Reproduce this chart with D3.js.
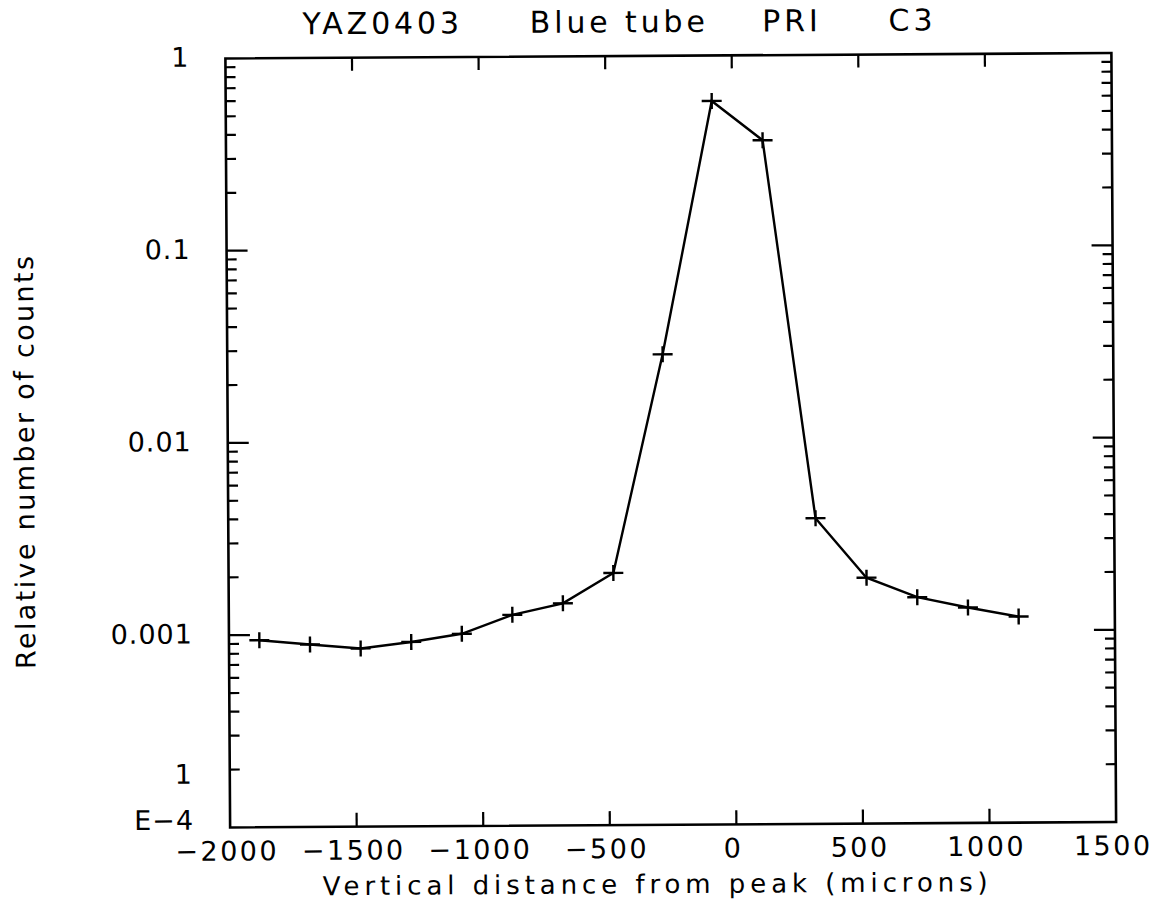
<!DOCTYPE html>
<html>
<head>
<meta charset="utf-8">
<script src="https://cdn.jsdelivr.net/npm/d3@7"></script>
<style>
  body { margin: 0; background: #fff; }
  text { font-family: "DejaVu Sans", sans-serif; fill: #000; }
</style>
</head>
<body>
<svg width="1156" height="905"></svg>
<script>
// data
const distance = [-1880, -1680, -1480, -1280, -1080, -880, -680, -480, -280, -80, 120, 320, 520, 720, 920, 1120];
const counts = [0.00094, 0.00089, 0.000845, 0.00091, 0.001, 0.00125, 0.00143, 0.00205,
  0.028, 0.58, 0.361, 0.00389, 0.0019, 0.0015, 0.00132, 0.00118];
const xTicks = [-2000, -1500, -1000, -500, 0, 500, 1000, 1500];
const yTicks = [1, 0.1, 0.01, 0.001];
const yTickLabels = ['1', '0.1', '0.01', '0.001'];
const title = 'YAZ0403     Blue tube    PRI     C3';

const svg = d3.select('svg');
const pLeft = 227.75, pRight = 1113.75, pTop = 55.75, pBottom = 824.75;
const cx = (pLeft + pRight) / 2, cy = (pTop + pBottom) / 2;

// the scan is slightly skewed
const g = svg.append('g')
  .attr('transform', `rotate(-0.35, ${cx}, ${cy})`);

const x = d3.scaleLinear().domain([-2000, 1500]).range([pLeft, pRight]);
const y = d3.scaleLog().domain([1e-4, 1]).range([pBottom, pTop]);

// minor log ticks 2..9 in each decade
const minor = [];
[1e-4, 1e-3, 1e-2, 1e-1].forEach(dec => {
  [2, 3, 4, 5, 6, 7, 8, 9].forEach(m => minor.push(dec * m));
});

const ticks = g.append('g')
  .attr('stroke', '#000')
  .attr('stroke-width', 2.2);

// left and right axis ticks
ticks.selectAll('.ml').data(minor).enter().append('line')
  .attr('x1', pLeft).attr('x2', pLeft + 10)
  .attr('y1', d => y(d)).attr('y2', d => y(d));
ticks.selectAll('.mr').data(minor).enter().append('line')
  .attr('x1', pRight).attr('x2', pRight - 10)
  .attr('y1', d => y(d)).attr('y2', d => y(d));
ticks.selectAll('.Ml').data(yTicks.slice(1)).enter().append('line')
  .attr('x1', pLeft).attr('x2', pLeft + 21)
  .attr('y1', d => y(d)).attr('y2', d => y(d));
ticks.selectAll('.Mr').data(yTicks.slice(1)).enter().append('line')
  .attr('x1', pRight).attr('x2', pRight - 21)
  .attr('y1', d => y(d)).attr('y2', d => y(d));

// top and bottom axis ticks
const inner = xTicks.slice(1, -1);
ticks.selectAll('.xb').data(inner).enter().append('line')
  .attr('x1', d => x(d)).attr('x2', d => x(d))
  .attr('y1', pBottom).attr('y2', pBottom - 14);
ticks.selectAll('.xt').data(inner).enter().append('line')
  .attr('x1', d => x(d)).attr('x2', d => x(d))
  .attr('y1', pTop).attr('y2', pTop + 13);

// frame
g.append('rect')
  .attr('x', pLeft).attr('y', pTop)
  .attr('width', pRight - pLeft).attr('height', pBottom - pTop)
  .attr('fill', 'none')
  .attr('stroke', '#000')
  .attr('stroke-width', 2.6);

// tick labels
g.append('g').selectAll('text')
  .data(xTicks)
  .enter()
  .append('text')
  .attr('x', d => x(d) - 3)
  .attr('y', pBottom + 33)
  .attr('text-anchor', 'middle')
  .attr('font-size', 27)
  .attr('letter-spacing', 2.5)
  .text(d => d3.format('d')(d).replace('-', '\u2212'));

g.append('g').selectAll('text')
  .data(yTicks)
  .enter()
  .append('text')
  .attr('x', pLeft - 36)
  .attr('y', d => y(d) + 8)
  .attr('text-anchor', 'end')
  .attr('font-size', 27)
  .attr('letter-spacing', 1)
  .text((d, i) => yTickLabels[i]);

// 1E-4 written on two lines
g.append('text')
  .attr('x', pLeft - 38)
  .attr('y', y(1e-4) - 44)
  .attr('text-anchor', 'end')
  .attr('font-size', 27)
  .text('1');
g.append('text')
  .attr('x', pLeft - 36)
  .attr('y', y(1e-4) + 2)
  .attr('text-anchor', 'end')
  .attr('font-size', 27)
  .attr('letter-spacing', 1)
  .text('E\u22124');

// axis titles
g.append('text')
  .attr('x', 320)
  .attr('y', 893)
  .attr('font-size', 26)
  .attr('textLength', 665)
  .attr('lengthAdjust', 'spacing')
  .text('Vertical distance from peak (microns)');

g.append('text')
  .attr('transform', `translate(34, 665) rotate(-90)`)
  .attr('font-size', 27)
  .attr('textLength', 413)
  .attr('lengthAdjust', 'spacing')
  .text('Relative number of counts');

g.append('text')
  .attr('x', 305)
  .attr('y', 32)
  .attr('font-size', 30)
  .attr('textLength', 630)
  .attr('lengthAdjust', 'spacing')
  .style('white-space', 'pre')
  .text(title);

// data line and markers
const pts = distance.map((d, i) => [d, counts[i]]);
const line = d3.line()
  .x(d => x(d[0]))
  .y(d => y(d[1]));

g.append('path')
  .datum(pts)
  .attr('d', line)
  .attr('fill', 'none')
  .attr('stroke', '#000')
  .attr('stroke-width', 2.4);

const cross = g.append('g')
  .attr('stroke', '#000')
  .attr('stroke-width', 2.4)
  .selectAll('g')
  .data(pts)
  .enter()
  .append('g')
  .attr('transform', d => `translate(${x(d[0])}, ${y(d[1])})`);

cross.append('line').attr('x1', -10).attr('x2', 10).attr('y1', 0).attr('y2', 0);
cross.append('line').attr('x1', 0).attr('x2', 0).attr('y1', -8).attr('y2', 8);
</script>
</body>
</html>
